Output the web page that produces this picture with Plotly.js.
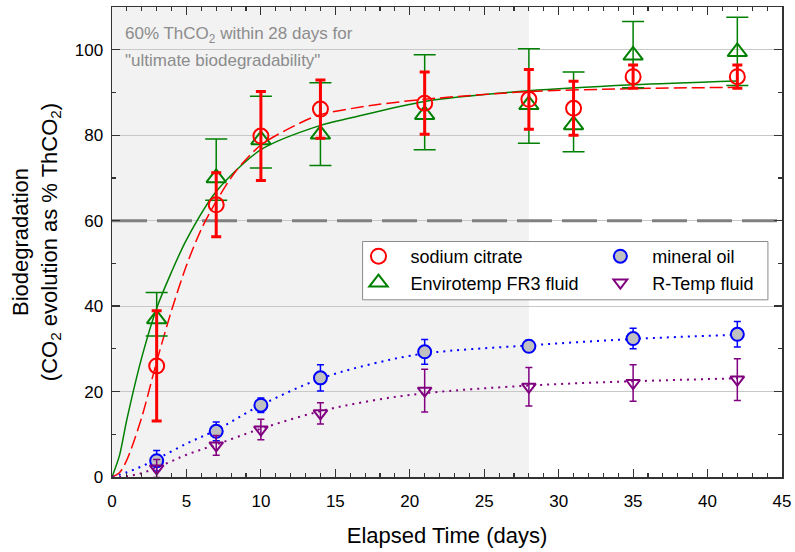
<!DOCTYPE html>
<html>
<head>
<meta charset="utf-8">
<script src="https://cdn.plot.ly/plotly-3.0.1.min.js"></script>
<style>html,body{margin:0;padding:0;background:#fff;}#chart{width:795px;height:552px;}</style>
</head>
<body>
<div id="chart"></div>
<script>
// ---- data ----
var daysAll = [3, 7, 10, 14, 21, 28, 31, 35, 42];
var citrate = [26.0, 63.7, 79.8, 86.1, 87.5, 88.4, 86.3, 93.7, 93.7];
var citrateErr = [12.9, 7.5, 10.4, 6.8, 7.3, 7.0, 6.3, 2.7, 2.7];
var fr3 = [37.0, 70.0, 78.9, 80.2, 84.8, 87.1, 82.4, 98.7, 99.5];
var fr3ErrPlus = [6.2, 9.1, 10.2, 12.1, 14.0, 13.1, 12.4, 7.9, 8.1];
var fr3ErrMinus = [4.0, 5.2, 6.6, 7.3, 8.2, 9.0, 6.3, 7.6, 7.9];

var daysOil = [3, 7, 10, 14, 21, 28, 35, 42];
var mineral = [3.8, 10.7, 16.8, 23.2, 29.3, 30.6, 32.4, 33.4];
var mineralErr = [2.4, 2.2, 1.7, 3.1, 2.9, 1.4, 2.4, 3.0];
var rtemp = [2.0, 7.4, 11.1, 14.9, 20.2, 21.1, 22.0, 22.8];
var rtempErr = [2.1, 2.3, 2.4, 2.5, 5.0, 4.5, 4.3, 4.9];

// fitted curves
var citrateFitX = [0, 0.5, 1, 2, 3, 4, 5, 6, 7, 8.3, 10, 12.6, 14, 17.5, 21, 28, 35, 42];
var citrateFitY = [0, 1.0, 4.0, 14.0, 27.0, 39.0, 49.5, 58.0, 64.5, 71.5, 77.7, 82.8, 84.8, 87.0, 88.4, 90.2, 90.9, 91.2];
var fr3FitX = [0, 0.5, 1, 2, 3, 4, 5, 7, 10, 14, 16, 21, 28, 35, 42];
var fr3FitY = [0, 5.0, 13.5, 28.0, 39.5, 48.0, 55.5, 66.8, 76.6, 82.3, 84.0, 87.9, 90.4, 91.8, 92.7];
var oilFitX = [0, 1, 2, 3, 5, 7, 10, 14, 17.5, 21, 28, 35, 42];
var oilFitY = [0, 1.1, 2.5, 4.2, 7.8, 11.0, 16.8, 23.0, 26.5, 28.9, 30.8, 32.3, 33.3];
var rtFitX = [0, 1, 2, 3, 4, 5, 7, 10, 14, 17.5, 21, 28, 35, 42];
var rtFitY = [0, 0.2, 0.9, 2.2, 3.7, 5.2, 7.6, 11.3, 15.4, 17.9, 19.6, 21.4, 22.4, 23.1];

var xTicks = [0, 5, 10, 15, 20, 25, 30, 35, 40, 45];
var yTicks = [0, 20, 40, 60, 80, 100];
var names = ['sodium citrate', 'Envirotemp FR3 fluid', 'mineral oil', 'R-Temp fluid'];
var noteLines = ['60% ThCO<sub>2</sub> within 28 days for', '"ultimate biodegradability"'];
var thresholdValue = 60;
var thresholdDay = 28;

var RED = '#ff0000', GREEN = '#008000', BLUE = '#0000ff', PURPLE = '#800080';

var traces = [
  {x: fr3FitX, y: fr3FitY, mode: 'lines', line: {color: GREEN, width: 1.5, shape: 'spline', smoothing: 0.8}, showlegend: false, hoverinfo: 'skip'},
  {x: citrateFitX, y: citrateFitY, mode: 'lines', line: {color: RED, width: 1.5, dash: '13px,5px', shape: 'spline', smoothing: 0.8}, showlegend: false, hoverinfo: 'skip'},
  {x: oilFitX, y: oilFitY, mode: 'lines', line: {color: BLUE, width: 2, dash: '2px,5px', shape: 'spline'}, showlegend: false, hoverinfo: 'skip'},
  {x: rtFitX, y: rtFitY, mode: 'lines', line: {color: PURPLE, width: 2, dash: '2px,5px', shape: 'spline'}, showlegend: false, hoverinfo: 'skip'},
  {x: daysAll, y: fr3, name: names[1], mode: 'markers', legend: 'legend',
   marker: {symbol: 'triangle-up-open', size: 17, color: GREEN, line: {width: 2, color: GREEN}},
   error_y: {type: 'data', symmetric: false, array: fr3ErrPlus, arrayminus: fr3ErrMinus, color: GREEN, thickness: 1.5, width: 11}},
  {x: daysAll, y: citrate, name: names[0], mode: 'markers', legend: 'legend',
   marker: {symbol: 'circle-open', size: 15, color: RED, line: {width: 2, color: RED}},
   error_y: {type: 'data', array: citrateErr, color: RED, thickness: 3, width: 5}},
  {x: daysOil, y: mineral, name: names[2], mode: 'markers', legend: 'legend2',
   marker: {symbol: 'circle', size: 13, color: '#c0c0c0', line: {width: 2, color: BLUE}},
   error_y: {type: 'data', array: mineralErr, color: BLUE, thickness: 1.5, width: 3.5}},
  {x: daysOil, y: rtemp, name: names[3], mode: 'markers', legend: 'legend2',
   marker: {symbol: 'triangle-down-open', size: 12, color: PURPLE, line: {width: 2, color: PURPLE}},
   error_y: {type: 'data', array: rtempErr, color: PURPLE, thickness: 1.5, width: 3.5}}
];

var FONT = 'Liberation Sans, Arial, sans-serif';
var axisCommon = {
  showline: true, linecolor: '#333', linewidth: 1.5, mirror: 'allticks',
  ticks: 'inside', ticklen: 8, tickwidth: 1.2, tickcolor: '#333',
  tickfont: {family: FONT, size: 17, color: '#000'},
  zeroline: false, automargin: false
};

var layout = {
  width: 795, height: 552,
  margin: {l: 112, r: 13, t: 7, b: 75},
  paper_bgcolor: '#ffffff', plot_bgcolor: '#ffffff',
  font: {family: FONT, color: '#000'},
  xaxis: Object.assign({}, axisCommon, {
    range: [0, 45], tickvals: xTicks, ticktext: xTicks.map(String), showgrid: false,
    ticklabelstandoff: 8,
    minor: {dtick: 1, ticks: 'inside', ticklen: 4, tickcolor: '#333', showgrid: false},
    title: {text: 'Elapsed Time (days)', font: {family: FONT, size: 22}, standoff: 17}
  }),
  yaxis: Object.assign({}, axisCommon, {
    range: [0, 110], tickvals: yTicks, ticktext: yTicks.map(String),
    showgrid: true, gridcolor: '#c8c8c8', gridwidth: 1,
    ticklabelstandoff: 4,
    minor: {dtick: 10, tick0: 0, ticks: 'inside', ticklen: 4, tickcolor: '#333', showgrid: false},
    title: {text: 'Biodegradation<br>(CO<sub>2</sub> evolution as % ThCO<sub>2</sub>)', font: {family: FONT, size: 22}, standoff: 11}
  }),
  shapes: [
    {type: 'rect', xref: 'x', yref: 'y', x0: 0, x1: thresholdDay, y0: 0, y1: 110, fillcolor: '#f2f2f2', line: {width: 0}, layer: 'below'},
    {type: 'line', xref: 'x', yref: 'y', x0: 0, x1: 45, y0: thresholdValue, y1: thresholdValue, line: {color: '#808080', width: 3, dash: '35px,10px'}, layer: 'between'},
    {type: 'rect', xref: 'paper', yref: 'paper', x0: 0.374, x1: 0.979, y0: 0.377, y1: 0.501, fillcolor: '#ffffff', line: {color: '#8a8a8a', width: 1}, layer: 'above'}
  ],
  annotations: [
    {xref: 'paper', yref: 'paper', x: 0.0157, y: 0.9404, xanchor: 'left', yanchor: 'middle', align: 'left', showarrow: false,
     text: noteLines[0], font: {family: FONT, size: 17, color: '#8c8c8c'}},
    {xref: 'paper', yref: 'paper', x: 0.0157, y: 0.8872, xanchor: 'left', yanchor: 'middle', align: 'left', showarrow: false,
     text: noteLines[1], font: {family: FONT, size: 17, color: '#8c8c8c'}}
  ],
  legend: {x: 0.350, y: 0.5085, xanchor: 'left', yanchor: 'top', bgcolor: 'rgba(0,0,0,0)', borderwidth: 0,
           font: {family: FONT, size: 18}, itemwidth: 54, traceorder: 'reversed', tracegroupgap: 0},
  legend2: {x: 0.711, y: 0.5085, xanchor: 'left', yanchor: 'top', bgcolor: 'rgba(0,0,0,0)', borderwidth: 0,
           font: {family: FONT, size: 18}, itemwidth: 54, traceorder: 'normal', tracegroupgap: 0},
  showlegend: true
};

Plotly.newPlot('chart', traces, layout, {displayModeBar: false, staticPlot: true});
</script>
</body>
</html>
